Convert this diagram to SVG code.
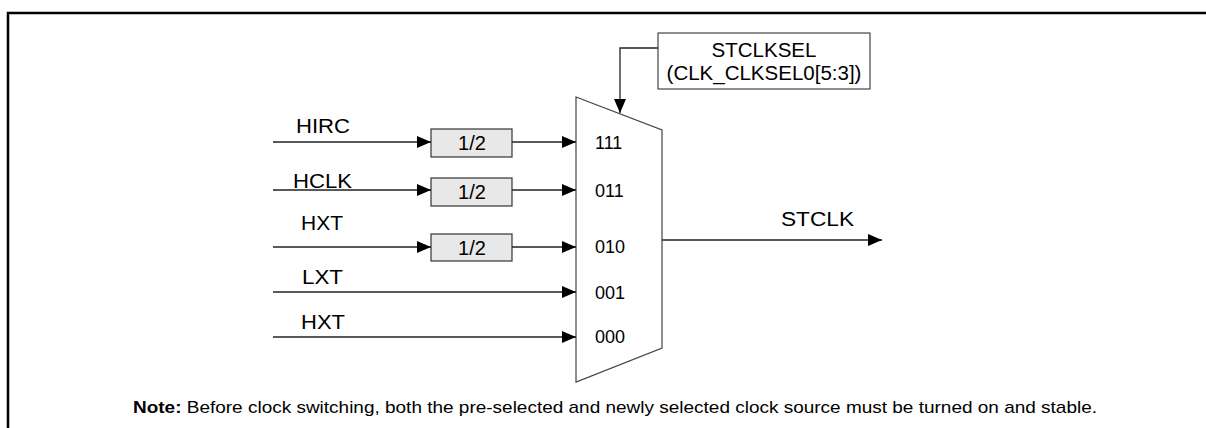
<svg xmlns="http://www.w3.org/2000/svg" width="1206" height="428" viewBox="0 0 1206 428">
<defs>
<marker id="ah" markerWidth="14" markerHeight="12" refX="14" refY="6" orient="auto" markerUnits="userSpaceOnUse">
<path d="M0,0 L14,6 L0,12 Z" fill="#000"/>
</marker>
<style>
.t{font-family:"Liberation Sans",Arial,sans-serif;font-size:20px;fill:#000}
.m{font-family:"Liberation Sans",Arial,sans-serif;font-size:18px;fill:#000}
.d{font-family:"Liberation Sans",Arial,sans-serif;font-size:20px;fill:#000;text-anchor:middle}
.w{stroke:#222;stroke-width:1.3;fill:none}
.div{fill:#e8e8e8;stroke:#333;stroke-width:1.2}
</style>
</defs>
<rect width="1206" height="428" fill="#fff"/>
<path d="M8,428 V13 H1206" fill="none" stroke="#000" stroke-width="2.5"/>

<g id="mux">
<path d="M576,97 L662,130 L662,348 L576,382 Z" fill="#fff" stroke="#444" stroke-width="1.2"/>
<text class="m" x="595" y="149">111</text>
<text class="m" x="595" y="197">011</text>
<text class="m" x="595" y="253">010</text>
<text class="m" x="595" y="299">001</text>
<text class="m" x="595" y="343">000</text>
</g>

<g id="sel">
<rect x="658" y="33" width="212" height="56" fill="#fff" stroke="#444" stroke-width="1.2"/>
<text class="t" x="764" y="57" text-anchor="middle" style="font-size:20.5px">STCLKSEL</text>
<text class="t" x="764" y="80" text-anchor="middle" style="font-size:20.5px">(CLK_CLKSEL0[5:3])</text>
</g>

<g id="div1"><rect class="div" x="431" y="129" width="81" height="28"/><text class="d" x="472" y="150">1/2</text></g>
<g id="div2"><rect class="div" x="431" y="178" width="81" height="28"/><text class="d" x="472" y="199">1/2</text></g>
<g id="div3"><rect class="div" x="431" y="234" width="81" height="27"/><text class="d" x="472" y="255">1/2</text></g>

<g id="labels">
<text class="t" x="296" y="133" textLength="54" lengthAdjust="spacingAndGlyphs">HIRC</text>
<text class="t" x="293" y="188" textLength="59" lengthAdjust="spacingAndGlyphs">HCLK</text>
<text class="t" x="301" y="230" textLength="42" lengthAdjust="spacingAndGlyphs">HXT</text>
<text class="t" x="302" y="284" textLength="41" lengthAdjust="spacingAndGlyphs">LXT</text>
<text class="t" x="301" y="329" textLength="44" lengthAdjust="spacingAndGlyphs">HXT</text>
<text class="t" x="781" y="226" textLength="73" lengthAdjust="spacingAndGlyphs">STCLK</text>
</g>

<g id="connectors">
<path class="w" d="M273,142 H431" marker-end="url(#ah)"/>
<path class="w" d="M512,142 H576" marker-end="url(#ah)"/>
<path class="w" d="M273,190 H431" marker-end="url(#ah)"/>
<path class="w" d="M512,190 H576" marker-end="url(#ah)"/>
<path class="w" d="M273,247 H431" marker-end="url(#ah)"/>
<path class="w" d="M512,247 H576" marker-end="url(#ah)"/>
<path class="w" d="M273,292 H576" marker-end="url(#ah)"/>
<path class="w" d="M273,337 H576" marker-end="url(#ah)"/>
<path class="w" d="M662,240 H882" marker-end="url(#ah)"/>
<path class="w" d="M658,48 H620 V113" marker-end="url(#ah)"/>
</g>

<text class="t" style="font-size:17px" x="133" y="413" textLength="964" lengthAdjust="spacingAndGlyphs"><tspan font-weight="bold">Note:</tspan> Before clock switching, both the pre-selected and newly selected clock source must be turned on and stable.</text>
</svg>
